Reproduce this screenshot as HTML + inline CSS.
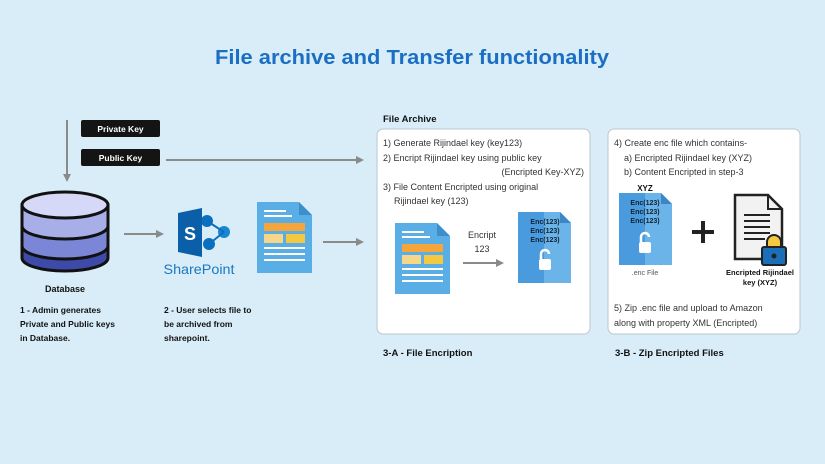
<!DOCTYPE html>
<html><head><style>
html,body{margin:0;padding:0;background:#d9edf8;}
svg{display:block;font-family:"Liberation Sans",sans-serif;}
</style></head><body>
<svg width="825" height="464" viewBox="0 0 825 464" xmlns="http://www.w3.org/2000/svg">
<defs>
<marker id="ah" markerWidth="8" markerHeight="8" refX="6" refY="4" orient="auto" markerUnits="userSpaceOnUse"><path d="M0,0 L8,4 L0,8 z" fill="#8a8a8a"/></marker>
</defs>
<rect width="825" height="464" fill="#d9edf8"/>
<text x="412" y="64" text-anchor="middle" font-size="20" font-weight="bold" fill="#1a6fc4" textLength="394" lengthAdjust="spacingAndGlyphs">File archive and Transfer functionality</text>

<!-- keys -->
<rect x="81" y="120" width="79" height="17" rx="2" fill="#141414"/>
<text x="120.5" y="132" text-anchor="middle" font-size="8.5" font-weight="bold" fill="#fff">Private Key</text>
<rect x="81" y="149" width="79" height="17" rx="2" fill="#141414"/>
<text x="120.5" y="161" text-anchor="middle" font-size="8.5" font-weight="bold" fill="#fff">Public Key</text>
<line x1="67" y1="120" x2="67" y2="180" stroke="#8a8a8a" stroke-width="2" marker-end="url(#ah)"/>
<line x1="166" y1="160" x2="362" y2="160" stroke="#8a8a8a" stroke-width="2" marker-end="url(#ah)"/>

<!-- database -->
<g stroke="#111" stroke-width="3">
<path d="M22,246 L22,258 A43,13 0 0 0 108,258 L108,246 Z" fill="#3d4aa8"/>
<path d="M22,226 L22,246 A43,13 0 0 0 108,246 L108,226 Z" fill="#7b86d6"/>
<path d="M22,205 L22,226 A43,13 0 0 0 108,226 L108,205 Z" fill="#a7aee8"/>
<ellipse cx="65" cy="205" rx="43" ry="13" fill="#d5d8f6"/>
</g>
<text x="65" y="292" text-anchor="middle" font-size="9" font-weight="bold" fill="#111">Database</text>
<g font-size="8.5" font-weight="bold" fill="#111">
<text x="20" y="313">1 - Admin generates</text>
<text x="20" y="327">Private and Public keys</text>
<text x="20" y="341">in Database.</text>
<text x="164" y="313">2 - User selects file to</text>
<text x="164" y="327">be archived from</text>
<text x="164" y="341">sharepoint.</text>
</g>
<line x1="124" y1="234" x2="162" y2="234" stroke="#8a8a8a" stroke-width="2" marker-end="url(#ah)"/>

<!-- sharepoint -->
<circle cx="207" cy="221" r="6" fill="#0b6fc0"/>
<circle cx="224" cy="232" r="6" fill="#1a86d0"/>
<circle cx="209" cy="244" r="6" fill="#0b6fc0"/>
<line x1="207" y1="221" x2="224" y2="232" stroke="#0b6fc0" stroke-width="2"/>
<line x1="224" y1="232" x2="209" y2="244" stroke="#0b6fc0" stroke-width="2"/>
<path d="M178,213 L202,208 L202,257 L178,252 Z" fill="#0b5fa8"/>
<text x="190" y="240" text-anchor="middle" font-size="18" font-weight="bold" fill="#fff">S</text>
<text x="199" y="274" text-anchor="middle" font-size="14" fill="#1a78c2" textLength="71" lengthAdjust="spacingAndGlyphs">SharePoint</text>

<!-- doc icon -->
<g id="doc">
<path d="M257,202 L299,202 L312,215 L312,273 L257,273 Z" fill="#5aaee6"/>
<path d="M299,202 L312,215 L299,215 Z" fill="#3d8fcc"/>
<rect x="264" y="210" width="22" height="2" fill="#fff"/><rect x="264" y="215" width="28" height="2" fill="#fff"/>
<rect x="264" y="223" width="41" height="8" fill="#f5a53a"/>
<rect x="264" y="234" width="19" height="9" fill="#f6d78a"/><rect x="286" y="234" width="19" height="9" fill="#f5c842"/>
<rect x="264" y="247" width="41" height="2" fill="#fff"/><rect x="264" y="253" width="41" height="2" fill="#fff"/><rect x="264" y="259" width="41" height="2" fill="#fff"/>
</g>
<line x1="323" y1="242" x2="362" y2="242" stroke="#8a8a8a" stroke-width="2" marker-end="url(#ah)"/>

<!-- File archive box -->
<text x="383" y="122" font-size="9.5" font-weight="bold" fill="#111">File Archive</text>
<rect x="377" y="129" width="213" height="205" rx="6" fill="#fff" stroke="#bcc6cc"/>
<g font-size="9" fill="#333">
<text x="383" y="146">1) Generate Rijindael key (key123)</text>
<text x="383" y="161">2) Encript Rijindael key using public key</text>
<text x="584" y="175" text-anchor="end">(Encripted Key-XYZ)</text>
<text x="383" y="190">3) File Content Encripted using original</text>
<text x="394" y="204">Rijindael key (123)</text>
<text x="482" y="238" text-anchor="middle">Encript</text>
<text x="482" y="252" text-anchor="middle">123</text>
</g>
<use href="#doc" transform="translate(138,21)"/>
<line x1="463" y1="263" x2="502" y2="263" stroke="#8a8a8a" stroke-width="2" marker-end="url(#ah)"/>

<!-- enc doc 1 -->
<g transform="translate(518,212)">
<path d="M0,0 L42,0 L53,11 L53,71 L0,71 Z" fill="#4a9bdd"/>
<path d="M26,0 L42,0 L53,11 L53,71 L26,71 Z" fill="#6ab4ea"/>
<path d="M42,0 L53,11 L42,11 Z" fill="#3a86c6"/>
<g font-size="7" font-weight="bold" fill="#123" text-anchor="middle"><text x="27" y="12">Enc(123)</text><text x="27" y="21">Enc(123)</text><text x="27" y="30">Enc(123)</text></g>
<rect x="21" y="47" width="12" height="11" rx="2" fill="#fff"/>
<path d="M23,47 L23,42 A4,4 0 0 1 31,42" stroke="#fff" stroke-width="2.5" fill="none"/>
</g>

<text x="383" y="356" font-size="9.5" font-weight="bold" fill="#111">3-A - File Encription</text>

<!-- Box 2 -->
<rect x="608" y="129" width="192" height="205" rx="6" fill="#fff" stroke="#bcc6cc"/>
<g font-size="9" fill="#333">
<text x="614" y="146">4) Create enc file which contains-</text>
<text x="624" y="161">a) Encripted Rijindael key (XYZ)</text>
<text x="624" y="175">b) Content Encripted in step-3</text>
<text x="614" y="311">5) Zip .enc file and upload to Amazon</text>
<text x="614" y="326">along with property XML (Encripted)</text>
</g>
<text x="645" y="191" text-anchor="middle" font-size="8" font-weight="bold" fill="#111">XYZ</text>
<g transform="translate(619,193)">
<path d="M0,0 L42,0 L53,11 L53,72 L0,72 Z" fill="#4a9bdd"/>
<path d="M26,0 L42,0 L53,11 L53,72 L26,72 Z" fill="#6ab4ea"/>
<path d="M42,0 L53,11 L42,11 Z" fill="#3a86c6"/>
<g font-size="7" font-weight="bold" fill="#123" text-anchor="middle"><text x="26" y="12">Enc(123)</text><text x="26" y="21">Enc(123)</text><text x="26" y="30">Enc(123)</text></g>
<rect x="20" y="49" width="12" height="11" rx="2" fill="#fff"/>
<path d="M22,49 L22,44 A4,4 0 0 1 30,44" stroke="#fff" stroke-width="2.5" fill="none"/>
</g>
<text x="645" y="275" text-anchor="middle" font-size="7" fill="#555">.enc File</text>
<rect x="692" y="230" width="22" height="4" fill="#222"/><rect x="701" y="221" width="4" height="22" fill="#222"/>
<!-- locked doc -->
<path d="M735,195 L768,195 L782,209 L782,259 L735,259 Z" fill="#f2f2f2" stroke="#222" stroke-width="2.5"/>
<path d="M768,195 L768,209 L782,209" fill="none" stroke="#222" stroke-width="2"/>
<g stroke="#222" stroke-width="2"><line x1="744" y1="215" x2="770" y2="215"/><line x1="744" y1="221" x2="770" y2="221"/><line x1="744" y1="227" x2="770" y2="227"/><line x1="744" y1="233" x2="770" y2="233"/><line x1="744" y1="239" x2="765" y2="239"/></g>
<path d="M767,248 L767,242 A7,7 0 0 1 781,242 L781,248" fill="#f5c842" stroke="#222" stroke-width="2"/>
<rect x="762" y="247" width="24" height="18" rx="2" fill="#1a6fb8" stroke="#222" stroke-width="2"/>
<circle cx="774" cy="256" r="2.5" fill="#222"/>
<g font-size="7.5" font-weight="bold" fill="#111" text-anchor="middle"><text x="760" y="275">Encripted Rijindael</text><text x="760" y="285">key (XYZ)</text></g>

<text x="615" y="356" font-size="9.5" font-weight="bold" fill="#111">3-B - Zip Encripted Files</text>
</svg>
</body></html>
